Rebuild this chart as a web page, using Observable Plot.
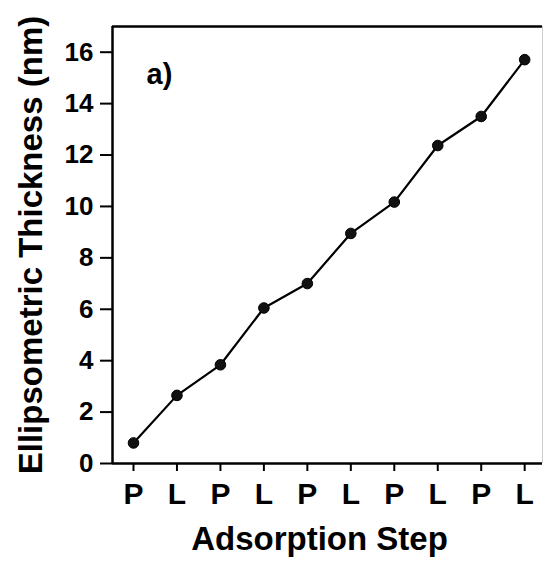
<!DOCTYPE html>
<html>
<head>
<meta charset="utf-8">
<script src="https://cdn.jsdelivr.net/npm/d3@7"></script>
<script src="https://cdn.jsdelivr.net/npm/@observablehq/plot@0.6"></script>
<style>
  html, body { margin: 0; padding: 0; background: white; }
</style>
</head>
<body>
<div id="chart"></div>
<script>
const steps = ["P", "L", "P", "L", "P", "L", "P", "L", "P", "L"];
const thickness = [0.80, 2.65, 3.84, 6.05, 7.00, 8.95, 10.17, 12.37, 13.50, 15.71];
const yTicks = [0, 2, 4, 6, 8, 10, 12, 14, 16];
const xTitle = "Adsorption Step";
const yTitle = "Ellipsometric Thickness (nm)";
const panelLabel = "a)";

const data = steps.map((s, i) => ({i, step: s, t: thickness[i]}));
const xMin = -0.483, xMax = 9.41;

const chart = Plot.plot({
  width: 543,
  height: 563,
  marginLeft: 112,
  marginRight: 1,
  marginTop: 26,
  marginBottom: 100,
  style: {fontFamily: "'Liberation Sans', Arial, Helvetica, sans-serif", fontWeight: "bold", background: "white", color: "black"},
  x: {type: "linear", domain: [xMin, xMax]},
  y: {domain: [0, 17]},
  marks: [
    Plot.axisY({ticks: yTicks, tickSize: 12, tickPadding: 7, fontSize: 26, label: null, strokeWidth: 2}),
    Plot.axisX({ticks: data.map(d => d.i), tickFormat: i => steps[i], tickSize: 8, tickPadding: 11, fontSize: 30, label: null, strokeWidth: 2}),
    Plot.ruleX([xMax], {stroke: "#cccccc", strokeWidth: 1}),
    Plot.ruleX([xMin], {stroke: "black", strokeWidth: 2.5}),
    Plot.ruleY([0], {stroke: "black", strokeWidth: 2.5}),
    Plot.ruleY([17], {stroke: "black", strokeWidth: 2.5}),
    Plot.line(data, {x: "i", y: "t", stroke: "black", strokeWidth: 2.2}),
    Plot.dot(data, {x: "i", y: "t", r: 5.3, fill: "#111", stroke: "black", strokeWidth: 1}),
    Plot.text([yTitle], {frameAnchor: "left", textAnchor: "middle", lineAnchor: "middle", rotate: -90, dx: -81, fontSize: 33, fontWeight: "bold"}),
    Plot.text([xTitle], {frameAnchor: "bottom", textAnchor: "middle", lineAnchor: "middle", dx: -8, dy: 76, fontSize: 33, fontWeight: "bold"}),
    Plot.text([panelLabel], {frameAnchor: "top-left", textAnchor: "start", lineAnchor: "middle", dx: 34, dy: 48, fontSize: 29, fontWeight: "bold"})
  ]
});
document.getElementById("chart").appendChild(chart);
</script>
</body>
</html>
